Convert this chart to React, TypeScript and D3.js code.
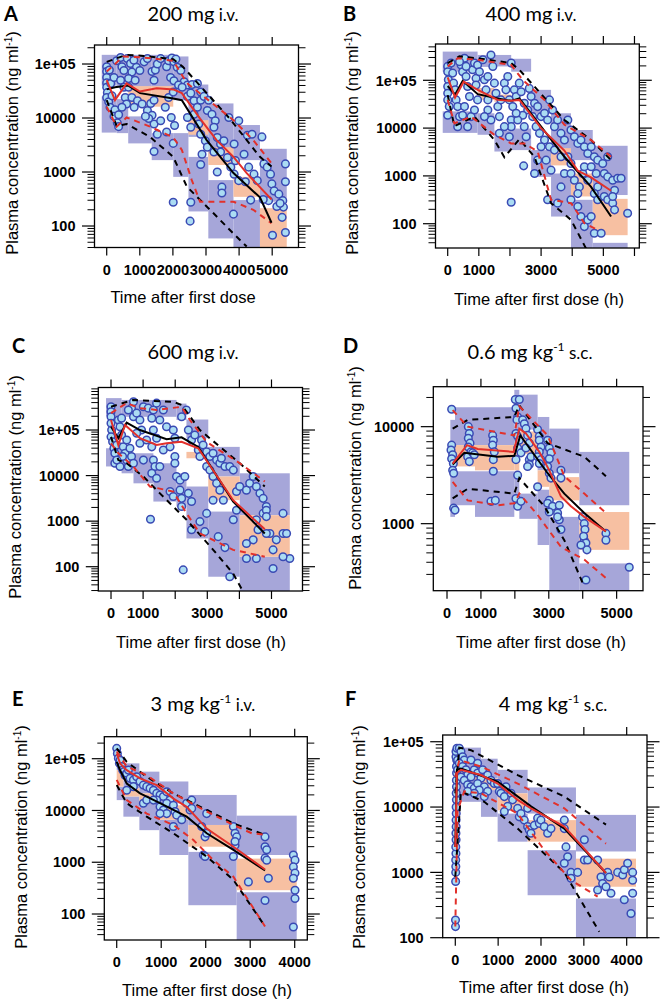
import React from "react";
import * as d3 from "d3";

// Every point: [time after first dose (h), log10 plasma concentration (ng/ml)]
type Pt = [number, number];
// Every band: [time from, time to, log10 conc low, log10 conc high]
type Band = [number, number, number, number];

// ---------------- A : 200 mg i.v. ----------------
const obsA: Pt[] = [
  [0,4.95],[0,4.86],[0,4.75],[0,4.65],[0,4.57],[20,4.47],[0,4.38],[60,4.30],[100,4.20],[80,4.89],
  [120,4.64],[160,4.41],[220,4.75],[250,4.15],[220,4.03],[320,3.91],[360,3.84],[300,5.06],[420,5.12],[460,4.95],
  [520,4.88],[420,4.70],[520,4.57],[560,4.38],[600,4.26],[460,4.20],[360,4.06],[620,5.10],[720,5.01],[820,5.07],
  [900,4.94],[760,4.85],[660,4.73],[860,4.70],[1000,4.88],[1130,5.04],[1230,5.10],[1370,4.86],[1430,4.70],[1470,4.89],
  [1530,5.00],[1630,5.10],[1810,4.95],[1870,5.06],[1970,5.11],[2030,5.04],[2090,5.09],[2130,4.94],[1930,4.75],[2030,4.69],
  [2240,4.88],[2340,4.67],[2440,4.61],[2580,4.62],[2740,4.64],[2840,4.48],[660,4.57],[760,4.38],[930,4.32],[1070,4.26],
  [830,4.20],[1230,4.14],[1330,4.27],[1430,4.33],[1370,4.05],[1430,3.89],[1630,3.95],[1770,4.20],[1870,4.38],[2010,4.48],
  [1950,4.01],[2050,3.86],[1270,3.99],[1170,4.03],[1530,3.70],[1810,3.74],[1430,3.38],[2010,3.53],[2170,4.61],[2280,4.57],
  [2440,4.40],[2540,4.46],[2640,4.32],[2740,4.20],[2840,4.33],[2940,4.40],[3080,4.33],[2640,4.07],[2440,4.01],[2540,3.83],
  [2780,3.89],[2840,3.70],[2980,3.58],[3040,3.46],[2880,3.33],[2840,3.14],[2010,2.44],[2540,2.44],[2520,2.09],[3040,4.14],
  [3180,4.07],[3280,3.95],[3240,3.83],[3340,3.64],[3440,3.52],[3540,3.58],[3440,3.37],[3650,3.27],[3750,3.09],[3850,2.96],
  [3480,2.72],[3480,2.61],[3340,3.00],[3240,3.37],[3690,4.01],[3850,3.52],[3990,3.95],[4250,3.68],[4390,3.70],[4690,3.65],
  [4150,3.33],[3890,3.21],[4290,3.09],[4450,2.96],[4550,2.84],[4190,2.82],[3990,2.84],[4350,2.48],[3830,2.22],[4750,3.15],
  [4850,3.09],[4950,2.96],[4990,2.78],[5060,2.65],[5200,2.59],[5320,2.47],[5340,2.35],[5400,3.15],[5400,2.82],[5300,2.16],
  [5400,1.88],[5010,1.83],[4890,2.47],[4730,2.49],[5140,2.36],[5240,2.42],
];
const piA: Band[] = [
  [-150,300,4.60,5.17],[-150,300,3.73,4.40],[300,650,4.58,5.17],[300,650,3.72,4.35],
  [650,1360,4.58,5.17],[650,1360,3.53,4.03],[1360,2010,4.58,5.17],[1360,2010,3.22,3.72],
  [2010,2470,4.33,5.14],[2010,2470,2.91,3.72],[2470,3070,3.65,4.62],[2470,3070,2.27,3.28],
  [3070,3830,3.28,4.27],[3070,3830,1.77,2.85],[3830,4630,3.22,3.87],[3830,4630,1.50,2.48],
  [4630,5440,2.45,3.43],
];
const ciMedA: Band[] = [
  [650,1360,4.21,4.59],[1360,2010,4.21,4.59],[2470,3070,3.69,3.96],[3070,3830,3.13,3.46],
  [3830,4630,2.54,2.91],[4630,5440,1.60,2.33],
];
const simMedA: Pt[] = [[0,4.53],[250,4.57],[650,4.60],[1010,4.46],[2010,4.36],[2270,4.33],[3020,3.59],[3830,2.98],[4630,2.53],[4980,2.06]];
const obsMedA: Pt[] = [[0,4.70],[250,4.33],[600,4.64],[1000,4.49],[1510,4.55],[2010,4.53],[2270,4.46],[2820,3.99],[3320,3.59],[3830,3.28],[4230,2.98],[4980,2.49]];
const sim95A: Pt[] = [[0,5.04],[600,5.17],[1110,5.15],[2010,5.09],[2300,4.95],[3730,3.98],[4630,3.28],[4980,3.10]];
const obs95A: Pt[] = [[0,4.86],[500,5.14],[1110,5.12],[2010,5.06],[2420,4.65],[3830,3.96],[4430,3.59],[4980,3.16]];
const sim05A: Pt[] = [[0,4.33],[300,3.85],[600,3.89],[1310,3.65],[2010,3.28],[2420,2.73],[3220,2.24],[3830,1.86],[4230,1.62]];
const obs05A: Pt[] = [[0,4.21],[300,3.84],[600,4.01],[1310,3.84],[2010,3.64],[2270,3.41],[2570,2.85],[2820,2.45],[3830,2.45],[4430,2.30],[4980,2.05]];

// ---------------- B : 400 mg i.v. ----------------
const obsB: Pt[] = [
  [0,5.29],[0,5.18],[20,5.01],[0,4.87],[0,4.73],[0,4.59],[50,4.45],[0,4.27],[110,5.36],[160,5.15],
  [190,4.94],[240,4.80],[270,4.59],[320,4.45],[380,4.24],[320,4.03],[430,5.32],[480,5.18],[540,5.46],[590,5.08],
  [640,4.87],[700,4.66],[540,4.45],[480,4.27],[640,4.03],[750,4.24],[800,5.22],[860,5.36],[910,5.04],[960,4.59],
  [860,4.38],[910,4.90],[590,5.29],[380,5.39],[960,5.32],[1020,5.18],[1130,5.43],[1180,5.01],[1290,5.08],[1230,4.80],
  [1290,4.59],[1390,5.53],[1450,5.29],[1500,4.94],[1550,4.73],[1610,4.45],[1660,4.24],[1710,4.59],[1820,4.94],[1870,4.80],
  [1930,5.08],[2040,5.36],[1980,4.59],[2090,4.45],[2140,4.80],[2200,4.66],[2040,4.17],[2040,4.03],[1980,3.82],[1820,4.03],
  [1290,4.38],[1390,4.17],[1660,3.89],[1180,4.24],[2300,4.94],[2360,4.76],[2460,4.52],[2570,4.38],[2410,4.27],[2250,4.17],
  [2460,4.03],[2520,3.82],[2200,4.31],[2620,4.83],[2680,4.66],[2790,4.52],[2890,4.45],[2730,4.24],[2840,4.03],[2950,3.89],
  [3000,4.24],[3110,4.31],[3210,4.17],[3270,4.59],[3370,4.38],[3430,4.03],[3530,4.17],[3640,3.89],[3750,3.75],[3110,3.75],
  [3270,3.61],[3430,3.54],[3640,3.40],[3160,3.33],[3000,3.61],[2890,3.33],[2790,3.05],[3320,3.12],[3210,2.50],[3530,2.43],
  [3640,2.77],[3750,3.05],[3960,3.26],[2040,2.45],[2440,3.21],[3860,4.17],[3960,3.96],[4070,3.82],[4180,3.68],[4280,3.75],
  [4390,3.61],[4500,3.47],[4610,3.61],[4710,3.40],[4820,3.33],[3860,3.40],[3960,3.05],[4070,2.91],[4230,2.77],[4340,3.05],
  [4390,3.19],[4500,2.91],[4610,3.19],[4770,3.05],[4820,2.77],[3960,2.50],[4180,2.36],[4280,2.15],[4390,1.94],[4500,2.08],
  [4180,2.63],[4710,2.63],[4820,2.50],[4610,2.15],[4710,1.80],[4930,1.80],[5030,3.05],[5140,2.98],[5300,2.91],[5360,2.70],
  [5460,2.95],[5570,2.95],[5030,2.57],[5140,2.50],[5300,2.43],[5360,2.29],[5780,2.22],[5140,3.40],[4980,3.26],[5300,2.57],
];
const piB: Band[] = [
  [-160,960,5.18,5.60],[-160,960,3.90,4.35],[960,1500,5.28,5.53],[960,1500,3.86,4.31],
  [1500,2040,5.29,5.53],[1500,2040,3.51,3.95],[2040,2680,5.18,5.45],[2040,2680,3.54,3.99],
  [2680,3320,4.30,4.80],[2680,3320,2.98,3.54],[3320,3960,3.54,4.31],[3320,3960,2.15,3.05],
  [3960,4660,3.33,3.96],[3960,4660,1.40,2.50],[4660,5780,2.60,3.63],[4660,5780,1.40,1.60],
];
const ciMedB: Band[] = [
  [960,1500,4.59,4.84],[1500,2040,4.55,4.70],[3320,3960,3.22,3.58],[3960,4660,2.57,3.05],[4660,5780,1.76,2.52],
];
const simMedB: Pt[] = [[0,4.88],[236,4.70],[482,4.99],[964,4.71],[1607,4.62],[2035,4.57],[2303,4.62],[3749,3.40],[4605,2.77],[5248,2.15]];
const obsMedB: Pt[] = [[0,5.06],[236,4.64],[514,4.97],[964,4.80],[1607,4.59],[2035,4.57],[2303,4.59],[3000,4.00],[3749,3.53],[4177,3.11],[4605,2.97],[5248,2.69]];
const sim95B: Pt[] = [[0,5.36],[375,5.50],[964,5.46],[2035,5.36],[2303,5.22],[3749,4.17],[4605,3.75],[5248,3.33]];
const obs95B: Pt[] = [[0,5.29],[321,5.46],[964,5.43],[2035,5.32],[2410,5.01],[3106,4.59],[3749,4.07],[4605,3.75],[5248,3.40]];
const sim05B: Pt[] = [[0,4.69],[214,4.04],[857,4.24],[1499,3.75],[1821,3.39],[2303,3.77],[2785,3.40],[3320,2.43],[3963,2.08],[4445,1.48]];
const obs05B: Pt[] = [[0,4.59],[214,4.10],[750,4.24],[1499,3.86],[2035,3.68],[2464,3.68],[2892,3.51],[3320,2.50],[3963,2.43],[4391,2.01],[4820,1.87]];

// ---------------- C : 600 mg i.v. ----------------
const obsC: Pt[] = [
  [0,5.51],[0,5.40],[0,5.29],[0,5.15],[20,5.00],[0,4.85],[50,4.74],[90,4.60],[120,4.49],[180,4.67],
  [230,5.22],[280,5.07],[330,4.89],[380,4.63],[440,4.49],[490,4.34],[120,4.27],[280,4.20],[360,4.42],[540,4.20],
  [640,4.42],[590,4.60],[490,4.78],[700,5.29],[640,5.48],[700,5.62],[800,5.37],[900,5.22],[1010,5.51],[950,5.00],
  [800,4.93],[900,4.71],[1110,4.78],[1010,4.34],[700,4.27],[180,4.34],[330,5.26],[540,5.44],[1160,5.48],[1270,5.26],
  [1320,5.44],[1420,5.59],[1520,5.22],[1630,5.44],[1730,5.07],[1320,5.00],[1420,4.82],[1270,4.63],[1320,4.34],[1370,4.20],
  [1270,4.05],[1420,3.94],[1520,4.20],[1630,4.56],[1840,4.63],[1940,5.00],[1990,4.82],[1990,4.42],[1990,4.27],[2040,3.98],
  [2150,3.90],[2300,3.98],[2350,5.44],[2200,5.29],[1840,3.65],[1940,3.54],[2200,3.50],[2150,3.68],[2200,3.32],[2510,2.81],
  [2250,1.93],[1230,3.04],[2410,5.00],[2510,4.78],[2610,4.89],[2720,4.56],[2770,4.42],[2820,4.78],[2870,4.67],[2980,4.52],
  [3080,4.42],[3180,4.49],[3290,4.34],[3390,4.27],[3440,4.38],[3550,4.20],[3700,4.20],[3810,4.12],[2980,4.20],[3080,4.12],
  [3180,3.98],[3290,3.83],[3390,3.68],[3500,3.46],[3180,3.46],[2980,3.17],[2410,3.61],[2510,3.43],[2770,2.99],[2920,2.77],
  [3340,2.66],[3550,2.42],[3700,1.78],[3810,3.03],[3910,3.24],[3910,3.65],[4010,3.76],[4220,3.68],[4320,3.83],[4430,3.98],
  [4530,3.76],[4640,3.61],[4740,3.50],[4840,3.32],[4740,3.17],[4840,3.24],[4530,3.03],[4580,2.81],[4430,2.59],[4220,2.51],
  [4220,2.18],[4530,2.18],[4840,3.10],[4950,2.73],[5150,2.59],[5050,2.37],[5360,2.73],[5360,3.17],[5470,2.73],[5570,2.18],
  [5360,2.22],[5050,1.96],[4840,2.73],
];
const piC: Band[] = [
  [-155,330,5.30,5.70],[-155,330,4.20,4.60],[330,700,5.29,5.66],[330,700,4.05,4.35],
  [700,1320,5.29,5.66],[700,1320,3.83,4.49],[1320,2040,5.29,5.66],[1320,2040,3.43,4.27],
  [2040,2350,5.22,5.58],[2040,2350,3.32,4.05],[2350,3030,4.82,5.23],[2350,3030,2.62,3.76],
  [3030,4010,3.98,4.63],[3030,4010,1.78,3.21],[4010,5570,3.13,4.05],[4010,5570,1.40,2.22],
];
const ciMedC: Band[] = [[2350,3030,4.38,4.52],[3030,4010,3.46,3.98],[4010,5570,2.22,3.13]];
const simMedC: Pt[] = [[0,5.07],[228,4.82],[487,5.16],[902,5.00],[1732,4.80],[2198,4.84],[2717,4.63],[3806,3.43],[4791,2.73]];
const obsMedC: Pt[] = [[0,5.22],[228,4.67],[436,5.11],[902,4.82],[1421,4.67],[1732,4.71],[2198,4.74],[2717,4.60],[3806,3.46],[4791,2.82]];
const sim95C: Pt[] = [[0,5.51],[695,5.66],[1939,5.62],[2198,5.55],[2769,5.00],[4013,4.27],[4791,3.76]];
const obs95C: Pt[] = [[0,5.37],[487,5.59],[902,5.48],[1421,5.44],[2198,5.51],[2458,5.22],[2976,4.74],[4013,4.27],[4791,3.87]];
const sim05C: Pt[] = [[0,4.85],[228,4.34],[487,4.27],[1006,3.98],[1524,3.61],[2354,3.03],[3184,2.37],[3806,1.85],[4117,1.45]];
const obs05C: Pt[] = [[0,4.71],[228,4.49],[695,4.20],[1213,3.76],[1939,3.65],[2354,3.17],[2769,2.73],[3806,2.37],[4791,2.22]];

// ---------------- D : 0.6 mg/kg s.c. ----------------
const obsD: Pt[] = [
  [137,4.18],[137,3.81],[118,3.76],[167,3.71],[137,3.67],[187,3.62],[167,3.55],[196,3.52],[196,3.16],[236,3.14],
  [628,4.00],[658,3.93],[628,3.88],[678,3.83],[628,3.79],[707,3.74],[609,3.69],[756,3.73],[658,3.64],[805,3.71],
  [1345,3.91],[1365,3.86],[1345,3.81],[1394,3.74],[1365,3.66],[1365,3.54],[1296,3.23],[1424,3.24],
  [2013,4.28],[2131,4.28],[2033,4.19],[2082,4.10],[2062,4.07],[2033,3.93],[2082,3.90],[2131,3.86],[2082,3.78],[2180,3.73],
  [2033,3.66],[2082,3.50],[2033,3.26],[2082,3.18],[2180,3.23],[2229,4.07],[2278,4.03],[2327,3.98],[2376,3.91],[2426,3.83],
  [2327,3.78],[2426,3.66],[2426,3.61],[2475,3.69],[2376,3.59],[2671,3.97],[2720,3.90],[2720,3.86],[2769,3.79],[2720,3.74],
  [2671,3.69],[2769,3.66],[2720,3.62],[2671,3.38],[2966,3.86],[3015,3.78],[3064,3.73],[3015,3.67],[2966,3.59],[3015,3.52],
  [3064,3.47],[3015,3.24],[2966,3.21],[3113,3.18],[3015,3.12],[3260,3.11],[3309,3.04],[3358,2.94],[3309,3.19],[3358,3.55],
  [3358,3.47],[3260,3.07],[3997,3.07],[4046,3.00],[4066,2.94],[4046,2.83],[4026,2.87],[4095,2.80],[4124,2.73],[4095,2.42],
  [3948,2.78],[4684,2.90],[4684,2.83],[5372,2.55],
];
const piD: Band[] = [
  [98,236,3.83,4.07],[98,236,3.07,3.55],[236,825,3.81,4.20],[236,825,3.19,3.54],
  [825,1984,3.81,4.20],[825,1984,3.07,3.54],[1984,2131,3.83,4.38],[1984,2131,3.26,3.54],
  [2131,2671,3.97,4.33],[2131,2671,3.05,3.31],[2671,3015,3.55,4.10],[2671,3015,2.78,3.35],
  [3015,3899,3.52,3.98],[3015,3899,2.25,3.07],[3899,5372,3.19,3.74],[3899,5372,2.25,2.59],
];
const ciMedD: Band[] = [
  [98,236,3.55,3.83],[236,825,3.59,3.81],[825,1984,3.55,3.81],[1984,2131,3.55,3.83],
  [2131,2671,3.72,3.95],[2671,3015,3.38,3.55],[3015,3899,3.24,3.48],[3899,5372,2.73,3.12],
];
const simMedD: Pt[] = [[167,3.61],[511,3.73],[1493,3.69],[1984,3.70],[2160,3.91],[2966,3.52],[3457,3.31],[4046,3.11],[4684,2.92]];
const obsMedD: Pt[] = [[167,3.62],[589,3.81],[903,3.77],[1964,3.74],[2131,3.98],[2327,3.93],[2720,3.74],[3015,3.55],[3358,3.28],[3653,3.18],[4046,3.07],[4684,2.92]];
const sim95D: Pt[] = [[167,3.98],[609,4.07],[1984,4.10],[2131,4.22],[2966,3.83],[4046,3.69],[4684,3.49]];
const obs95D: Pt[] = [[167,4.17],[609,4.00],[1984,3.91],[2131,4.21],[2966,3.91],[3457,3.49],[4046,3.31],[4684,3.11]];
const sim05D: Pt[] = [[167,3.26],[609,3.36],[1984,3.31],[2131,3.47],[2867,3.18],[3457,2.83],[4046,2.35]];
const obs05D: Pt[] = [[167,3.43],[609,3.24],[1493,3.19],[1984,3.21],[2131,3.31],[2671,3.09],[3358,2.76],[4046,2.63],[4684,2.44]];

// ---------------- E : 3 mg/kg i.v. ----------------
const obsE: Pt[] = [
  [0,5.20],[15,5.10],[37,5.01],[60,4.91],[75,4.97],[112,4.85],[135,4.78],[165,4.75],[187,4.68],[225,4.72],
  [262,4.78],[300,4.62],[375,4.59],[449,4.65],[524,4.56],[599,4.49],[674,4.46],[749,4.43],[824,4.39],[899,4.33],
  [974,4.30],[1049,4.27],[1124,4.36],[1198,4.20],[899,4.20],[974,4.07],[1049,4.01],[1124,4.14],[599,4.14],[674,4.20],
  [1273,4.10],[1311,3.98],[1348,3.91],[1273,3.69],[1461,3.82],[1573,4.14],[1648,4.01],[1685,4.04],[1685,4.20],[2022,3.94],
  [1985,3.49],[1947,3.14],[1985,3.11],[1910,3.69],[2022,3.56],[2622,3.69],[2659,3.56],[2696,3.49],[2659,3.33],[2622,3.11],
  [2659,3.40],[2959,2.62],[3333,3.49],[3333,3.30],[3371,3.24],[3333,3.08],[3371,3.04],[3408,2.69],[3333,2.26],[3970,3.14],
  [4007,3.04],[3970,2.91],[4007,2.79],[3970,2.69],[4007,2.46],[4007,2.30],[3970,1.75],[1124,3.94],[974,3.94],[824,4.20],
  [375,4.46],[225,4.39],
];
const piE: Band[] = [
  [0,150,4.78,5.04],[0,150,4.20,4.46],[150,509,4.43,4.91],[150,509,3.88,4.27],
  [509,959,4.33,4.75],[509,959,3.62,4.14],[959,1610,4.14,4.56],[959,1610,3.14,3.82],
  [1610,2696,3.72,4.30],[1610,2696,2.17,3.20],[2696,4045,3.14,3.90],[2696,4045,1.40,2.42],
];
const ciMedE: Band[] = [
  [0,150,4.46,4.78],[150,509,4.27,4.43],[509,959,4.14,4.33],[959,1610,3.82,4.10],
  [1610,2696,3.30,3.72],[2696,4045,2.46,3.07],
];
const simMedE: Pt[] = [[0,4.94],[75,4.78],[225,4.52],[524,4.33],[974,4.14],[1573,3.88],[2022,3.56],[2622,3.24],[3333,2.84]];
const obsMedE: Pt[] = [[0,5.10],[75,4.91],[225,4.78],[524,4.62],[899,4.49],[1273,4.23],[1573,4.07],[2022,3.65],[2622,3.30],[3333,2.86]];
const sim95E: Pt[] = [[0,5.20],[225,4.94],[674,4.65],[1273,4.33],[2022,4.01],[2622,3.75],[3333,3.53]];
const obs95E: Pt[] = [[0,5.14],[225,4.85],[674,4.68],[1273,4.33],[2022,3.98],[2622,3.72],[3034,3.56],[3333,3.53]];
const sim05E: Pt[] = [[0,4.49],[225,4.14],[674,3.88],[1273,3.56],[2022,3.11],[2622,2.66],[3333,1.76]];
const obs05E: Pt[] = [[0,4.59],[225,4.20],[674,3.94],[1273,3.72],[1723,3.43],[2172,3.04],[2622,2.72],[3333,1.76]];

// ---------------- F : 4 mg/kg s.c. ----------------
const obsF: Pt[] = [
  [5,2.17],[5,2.27],[8,2.86],[10,3.00],[12,3.09],[10,3.19],[15,3.29],[12,3.39],[18,3.50],[15,3.60],
  [20,3.70],[18,3.80],[22,3.90],[20,4.00],[25,4.11],[22,4.21],[28,4.31],[25,4.41],[30,4.52],[28,4.62],
  [32,4.72],[16,4.77],[16,4.85],[39,4.90],[54,4.72],[54,4.57],
  [93,4.90],[132,4.85],[171,4.77],[210,4.72],[93,4.67],[171,4.62],[249,4.57],[288,4.49],[132,4.46],[210,4.41],
  [288,4.34],[366,4.31],[443,4.29],[366,4.46],[443,4.57],[521,4.52],[599,4.44],[521,4.36],[677,4.31],[638,4.57],
  [755,4.49],[832,4.41],[910,4.36],[755,4.24],[677,4.16],[560,4.26],[443,4.21],[288,4.24],[366,4.72],[521,4.67],
  [988,4.36],[1027,4.24],[1066,4.21],[1144,4.16],[1183,4.31],[1299,4.21],[1338,4.11],[1221,4.01],[1144,3.93],[1455,3.98],
  [1494,3.85],[1533,3.90],[1610,3.80],[1688,3.98],[1688,3.70],[1727,3.65],[1766,3.60],[1844,3.72],[1922,3.83],[1961,3.75],
  [1999,3.80],[2077,3.70],[2155,3.60],[2233,3.67],[2544,3.67],[2583,3.39],[2622,3.24],[2544,3.14],[2700,3.00],[2700,2.91],
  [2855,3.00],[3012,3.19],[3089,3.19],[3322,3.19],[3400,2.93],[3439,2.83],[3322,2.73],[3517,2.78],[3555,3.00],[3594,2.93],
  [3633,2.68],[3789,3.00],[3906,2.96],[3944,3.04],[4022,3.14],[4139,3.00],[4139,2.88],[3944,2.58],[4139,2.68],[4100,2.37],
  [3012,3.50],[2544,3.80],
];
const piF: Band[] = [
  [54,599,4.57,4.91],[54,599,4.08,4.41],[599,988,4.44,4.74],[599,988,3.85,4.26],
  [988,1688,4.21,4.57],[988,1688,3.47,3.90],[1688,2816,3.90,4.30],[1688,2816,2.65,3.34],
  [2816,4217,3.32,3.88],[2816,4217,1.90,2.60],
];
const ciMedF: Band[] = [
  [54,599,4.41,4.57],[599,988,4.26,4.44],[988,1688,3.95,4.21],[1688,2816,3.47,3.80],[2816,4217,2.78,3.21],
];
const simMedF: Pt[] = [[0,3.39],[39,4.57],[132,4.59],[988,4.39],[1766,4.01],[2544,3.67],[3517,2.99]];
const obsMedF: Pt[] = [[0,3.39],[39,4.52],[132,4.57],[599,4.49],[988,4.36],[1455,4.11],[1766,3.98],[2544,3.70],[3517,2.99]];
const sim95F: Pt[] = [[0,4.21],[93,4.91],[366,4.87],[1455,4.49],[2544,4.16],[3517,3.73]];
const obs95F: Pt[] = [[0,4.46],[93,4.72],[599,4.62],[1455,4.36],[2544,3.98],[3517,3.44]];
const sim05F: Pt[] = [[0,2.93],[132,4.24],[677,4.08],[1455,3.67],[2544,3.00],[3361,2.09]];
const obs05F: Pt[] = [[0,2.17],[54,3.95],[210,4.24],[599,4.21],[1455,3.90],[2077,3.34],[2700,2.88],[3322,2.63]];

// ---------------- ticks / labels ----------------
const xTicks6 = [0, 1000, 2000, 3000, 4000, 5000];
const xTicksB = [0, 1000, 2000, 3000, 4000, 5000, 6000];
const xLabelsAll6 = [0, 1000, 2000, 3000, 4000, 5000];
const xLabelsOdd = [0, 1000, 3000, 5000];
const xTicks4 = [0, 1000, 2000, 3000, 4000];
const yDecades4 = [2, 3, 4, 5];
const yDecadesD = [3, 4];

// ---------------- styling ----------------
const PURPLE = "#a6a6d9";
const SALMON = "#f7c0a2";
const DOT_FILL = "#abdcf3";
const DOT_STROKE = "#3a4ab4";
const RED = "#e2312b";
const TICKFONT = "'Liberation Sans', Arial, Helvetica, sans-serif";
const TITLEFONT = "Lato, 'Open Sans', sans-serif";

interface Panel {
  id: string;
  main: string;
  kg: boolean;
  route: string;
  box: [number, number, number, number];
  xDom: [number, number];
  yLog: [number, number];
  xTicks: number[];
  xLabels: number[];
  yDec: number[];
  xTitle: string;
  titlePos: [number, number];
  letterPos: [number, number];
  yTitlePos: [number, number];
  xTitlePos: [number, number];
  obs: Pt[];
  pi: Band[];
  med: Band[];
  simMed: Pt[];
  obsMed: Pt[];
  sim95: Pt[];
  obs95: Pt[];
  sim05: Pt[];
  obs05: Pt[];
}

const panels: Panel[] = [
  { id: "A", main: "200 mg", kg: false, route: "i.v.", box: [94.5, 45, 298.5, 247.5], xDom: [-369, 5795], yLog: [1.602, 5.352],
    xTicks: xTicks6, xLabels: xLabelsAll6, yDec: yDecades4, xTitle: "Time after first dose",
    titlePos: [193, 21], letterPos: [4, 21], yTitlePos: [17.5, 143], xTitlePos: [183, 303],
    obs: obsA, pi: piA, med: ciMedA, simMed: simMedA, obsMed: obsMedA, sim95: sim95A, obs95: obs95A, sim05: sim05A, obs05: obs05A },
  { id: "B", main: "400 mg", kg: false, route: "i.v.", box: [435.5, 44, 639.3, 248], xDom: [-392, 6155], yLog: [1.492, 5.759],
    xTicks: xTicksB, xLabels: xLabelsOdd, yDec: yDecades4, xTitle: "Time after first dose (h)",
    titlePos: [531, 21], letterPos: [343, 21], yTitlePos: [358, 143], xTitlePos: [539, 305],
    obs: obsB, pi: piB, med: ciMedB, simMed: simMedB, obsMed: obsMedB, sim95: sim95B, obs95: obs95B, sim05: sim05B, obs05: obs05B },
  { id: "C", main: "600 mg", kg: false, route: "i.v.", box: [98.3, 387.5, 302.5, 591], xDom: [-396, 5966], yLog: [1.467, 5.933],
    xTicks: xTicks6, xLabels: xLabelsOdd, yDec: yDecades4, xTitle: "Time after first dose (h)",
    titlePos: [193, 359], letterPos: [12, 353], yTitlePos: [20.5, 487], xTitlePos: [201, 648],
    obs: obsC, pi: piC, med: ciMedC, simMed: simMedC, obsMed: obsMedC, sim95: sim95C, obs95: obs95C, sim05: sim05C, obs05: obs05C },
  { id: "D", main: "0.6 mg  kg", kg: true, route: "s.c.", box: [433.3, 386.7, 643, 590.7], xDom: [-404, 5777], yLog: [2.309, 4.412],
    xTicks: xTicks6, xLabels: xLabelsOdd, yDec: yDecadesD, xTitle: "Time after first dose (h)",
    titlePos: [530, 359], letterPos: [343, 353], yTitlePos: [361, 478], xTitlePos: [541, 648],
    obs: obsD, pi: piD, med: ciMedD, simMed: simMedD, obsMed: obsMedD, sim95: sim95D, obs95: obs95D, sim05: sim05D, obs05: obs05D },
  { id: "E", main: "3 mg  kg", kg: true, route: "i.v.", box: [104.3, 736.7, 307.3, 940], xDom: [-279, 4283], yLog: [1.498, 5.425],
    xTicks: xTicks4, xLabels: xTicks4, yDec: yDecades4, xTitle: "Time after first dose (h)",
    titlePos: [203, 711], letterPos: [12, 706], yTitlePos: [27, 837], xTitlePos: [207, 996],
    obs: obsE, pi: piE, med: ciMedE, simMed: simMedE, obsMed: obsMedE, sim95: sim95E, obs95: obs95E, sim05: sim05E, obs05: obs05E },
  { id: "F", main: "4 mg  kg", kg: true, route: "s.c.", box: [442.7, 735, 647, 937.7], xDom: [-294, 4474], yLog: [2.0, 5.103],
    xTicks: xTicks4, xLabels: xTicks4, yDec: yDecades4, xTitle: "Time after first dose (h)",
    titlePos: [553, 711], letterPos: [345, 706], yTitlePos: [365, 837], xTitlePos: [544, 993],
    obs: obsF, pi: piF, med: ciMedF, simMed: simMedF, obsMed: obsMedF, sim95: sim95F, obs95: obs95F, sim05: sim05F, obs05: obs05F },
];

function fmtDecade(k: number): string {
  return k >= 5 ? `1e+0${k}` : String(Math.pow(10, k));
}

function PanelView({ p }: { p: Panel }) {
  const [x0, y0, x1, y1] = p.box;
  const xs = d3.scaleLinear().domain(p.xDom).range([x0, x1]);
  const ys = d3.scaleLog().domain([Math.pow(10, p.yLog[0]), Math.pow(10, p.yLog[1])]).range([y1, y0]);
  const Y = (l: number) => ys(Math.pow(10, l));
  const line = d3.line<Pt>().x((d) => xs(d[0])).y((d) => Y(d[1]));
  const minors: number[] = [];
  for (let k = Math.floor(p.yLog[0]); k <= Math.floor(p.yLog[1]); k++) {
    for (let m = 2; m <= 9; m++) {
      const l = k + Math.log10(m);
      if (l >= p.yLog[0] && l <= p.yLog[1]) minors.push(l);
    }
  }
  const clip = `clip-${p.id}`;
  const MAJ = 12.5, MIN = 7, XT = 8;
  const bandRect = (b: Band, fill: string, key: string) => (
    <rect key={key} x={xs(b[0])} y={Y(b[3])} width={xs(b[1]) - xs(b[0])} height={Y(b[2]) - Y(b[3])} fill={fill} />
  );
  return (
    <g>
      <defs>
        <clipPath id={clip}>
          <rect x={x0} y={y0} width={x1 - x0} height={y1 - y0} />
        </clipPath>
      </defs>
      <g clipPath={`url(#${clip})`}>
        {p.pi.map((b, i) => bandRect(b, PURPLE, `pi${i}`))}
        {p.med.map((b, i) => bandRect(b, SALMON, `md${i}`))}
        {p.obs.map((d, i) => (
          <circle key={`o${i}`} cx={xs(d[0])} cy={Y(d[1])} r={3.8} fill={DOT_FILL} stroke={DOT_STROKE} strokeWidth={1.5} />
        ))}
        <path d={line(p.sim95) || ""} fill="none" stroke="#000" strokeWidth={2} strokeDasharray="6,5" />
        <path d={line(p.sim05) || ""} fill="none" stroke="#000" strokeWidth={2} strokeDasharray="6,5" />
        <path d={line(p.obs95) || ""} fill="none" stroke={RED} strokeWidth={2} strokeDasharray="6,5" />
        <path d={line(p.obs05) || ""} fill="none" stroke={RED} strokeWidth={2} strokeDasharray="6,5" />
        <path d={line(p.simMed) || ""} fill="none" stroke="#000" strokeWidth={2} />
        <path d={line(p.obsMed) || ""} fill="none" stroke={RED} strokeWidth={2} />
      </g>
      <rect x={x0} y={y0} width={x1 - x0} height={y1 - y0} fill="none" stroke="#000" strokeWidth={1.3} />
      {p.yDec.map((k) => (
        <g key={`yM${k}`}>
          <line x1={x0 - MAJ} x2={x0} y1={Y(k)} y2={Y(k)} stroke="#000" strokeWidth={1.2} />
          <line x1={x1} x2={x1 + MAJ} y1={Y(k)} y2={Y(k)} stroke="#000" strokeWidth={1.2} />
          <text x={x0 - 19} y={Y(k)} dy="0.36em" textAnchor="end" fontFamily={TICKFONT} fontWeight="bold" fontSize={14.5}>
            {fmtDecade(k)}
          </text>
        </g>
      ))}
      {minors.map((l, i) => (
        <g key={`ym${i}`}>
          <line x1={x0 - MIN} x2={x0} y1={Y(l)} y2={Y(l)} stroke="#000" strokeWidth={1} />
          <line x1={x1} x2={x1 + MIN} y1={Y(l)} y2={Y(l)} stroke="#000" strokeWidth={1} />
        </g>
      ))}
      {p.xTicks.map((t) => (
        <g key={`xt${t}`}>
          <line x1={xs(t)} x2={xs(t)} y1={y1} y2={y1 + XT} stroke="#000" strokeWidth={1.2} />
          <line x1={xs(t)} x2={xs(t)} y1={y0 - XT} y2={y0} stroke="#000" strokeWidth={1.2} />
        </g>
      ))}
      {p.xLabels.map((t) => (
        <text key={`xl${t}`} x={xs(t)} y={y1 + 27} textAnchor="middle" fontFamily={TICKFONT} fontWeight="bold" fontSize={14.5}>
          {String(t)}
        </text>
      ))}
      <text x={p.xTitlePos[0]} y={p.xTitlePos[1]} textAnchor="middle" fontFamily={TICKFONT} fontSize={16.5}>
        {p.xTitle}
      </text>
      <text transform={`translate(${p.yTitlePos[0]},${p.yTitlePos[1]}) rotate(-90)`} textAnchor="middle" fontFamily={TICKFONT} fontSize={16.5}>
        Plasma concentration (ng ml
        <tspan dy={-6} fontSize={10}>-1</tspan>
        <tspan dy={6}>)</tspan>
      </text>
      <text x={p.titlePos[0]} y={p.titlePos[1]} textAnchor="middle" fontFamily={TITLEFONT} fontSize={20}>
        {p.main}
        {p.kg ? <tspan dy={-8} fontSize={12}>-1</tspan> : null}
        <tspan dy={p.kg ? 8 : 0} fontSize={17}>{" " + p.route}</tspan>
      </text>
      <text x={p.letterPos[0]} y={p.letterPos[1]} fontFamily={TITLEFONT} fontWeight="bold" fontSize={20}>
        {p.id}
      </text>
    </g>
  );
}

export default function App() {
  return (
    <svg
      width={662}
      height={1002}
      viewBox="0 0 662 1002"
      style={{ position: "absolute", left: 0, top: 0, background: "#fff" }}
    >
      <rect x={0} y={0} width={662} height={1002} fill="#fff" />
      {panels.map((p) => (
        <PanelView key={p.id} p={p} />
      ))}
    </svg>
  );
}
